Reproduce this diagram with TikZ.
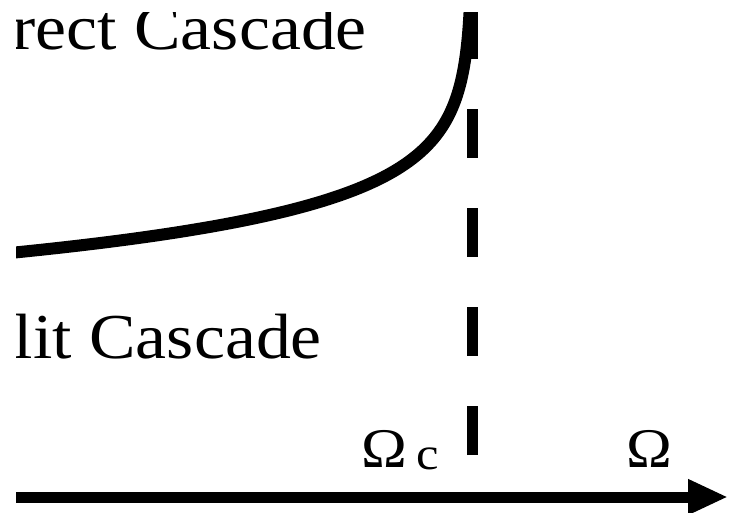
\documentclass[tikz,border=0pt]{standalone}
\usepackage{fontspec}
\usepackage{graphicx}
\setmainfont{Liberation Serif}
\usetikzlibrary{arrows.meta}
\tikzset{
  curve/.style={line width=12pt, line cap=butt},
  dashline/.style={line width=11pt, dash pattern=on 49pt off 50pt},
  axis/.style={line width=11pt, -{Triangle[length=40pt,width=33pt]}},
  bigtext/.style={inner sep=0pt, font=\fontsize{64}{70}\selectfont},
  sym/.style={inner sep=0pt, font=\fontsize{56}{60}\selectfont}
}
\begin{document}
\begin{tikzpicture}[x=1pt,y=-1pt]
\useasboundingbox (0,0) rectangle (729,513);
\clip (16,13) rectangle (729,513);
% texts
\node[bigtext, anchor=base east] (direct) at (367,50) {\scalebox{1.09}[1]{rect Cascade}};
\node[bigtext, anchor=base east] (split) at (322,359) {\scalebox{1.09}[1]{lit Cascade}};
\node[sym, anchor=base west] (omc) at (361,467) {\scalebox{1.1}[1]{Ω}\hspace{10pt}\raisebox{-2pt}{\fontsize{46}{48}\selectfont\scalebox{1.1}[1]{c}}};
\node[sym, anchor=base west] (om) at (626,467) {\scalebox{1.1}[1]{Ω}};
% dashed critical line
\coordinate (dbot) at (472.5,455);
\coordinate (dtop) at (472.5,-50);
\draw[dashline] (dbot) -- (dtop);
% curve
\draw[curve] plot[domain=-1.2:6.16, samples=160, variable=\t] ({472-exp(\t)}, {46*\t-29.24});
% axis
\coordinate (ax0) at (5,497);
\coordinate (ax1) at (728,497);
\draw[axis] (ax0) -- (ax1);
\end{tikzpicture}
\end{document}
